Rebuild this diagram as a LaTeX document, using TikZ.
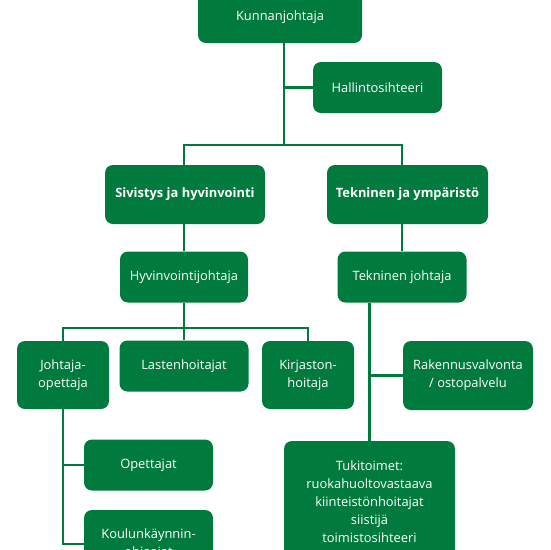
\documentclass[tikz,border=0pt]{standalone}
\usepackage{fontspec}
\setmainfont{Open Sans}
\usetikzlibrary{backgrounds}
\definecolor{gr}{RGB}{0,122,61}
\begin{document}
\begin{tikzpicture}[x=1pt,y=-1pt,
 box/.style={fill=gr, rounded corners=8pt, text=white, font=\fontsize{12.9}{18}\selectfont, align=center, inner sep=0pt, minimum height=51pt},
 bbox/.style={box, font=\fontsize{12.9}{18}\selectfont\bfseries, minimum height=59pt},
 conn/.style={draw=gr, line width=2.8pt}]
\useasboundingbox (0,0) rectangle (550,550);
\clip (0,0) rectangle (550,550);
\node[box, minimum width=164pt] (kunta) at (280,17.5) {Kunnanjohtaja};
\node[box, minimum width=129pt] (hal) at (377.5,87.5) {Hallintosihteeri};
\node[bbox, minimum width=160pt] (siv) at (185,194.5) {Sivistys ja hyvinvointi};
\node[bbox, minimum width=161pt] (tek) at (407.5,194.5) {Tekninen ja ympäristö};
\node[box, minimum width=128pt] (hyv) at (184,277) {Hyvinvointijohtaja};
\node[box, minimum width=129pt] (tj) at (402,277) {Tekninen johtaja};
\node[box, minimum width=92pt, minimum height=68pt] (jo) at (63,375) {Johtaja-\\opettaja};
\node[box, minimum width=129pt] (las) at (184,366) {Lastenhoitajat};
\node[box, minimum width=92pt, minimum height=68pt] (kir) at (308,375) {Kirjaston-\\hoitaja};
\node[box, minimum width=130pt, minimum height=69pt] (rak) at (468,375.5) {Rakennusvalvonta\\/ ostopalvelu};
\node[box, minimum width=129pt] (ope) at (148.5,465) {Opettajat};
\node[box, minimum width=129pt, minimum height=68pt] (kou) at (148.5,544) {Koulunkäynnin-\\ohjaajat};
\node[box, minimum width=171pt, minimum height=122pt] (tuki) at (369.5,502) {Tukitoimet:\\ruokahuoltovastaava\\kiinteistönhoitajat\\siistijä\\toimistosihteeri};
\coordinate (t) at (284,145);
\coordinate (u) at (184,328);
\begin{scope}[on background layer]
\draw[conn] (t |- kunta.south) -- (t);
\draw[conn] (hal.west) -- (hal.west -| t);
\draw[conn] (hyv.north) -- (hyv.north |- t) -- (tj.north |- t) -- (tj.north);
\draw[conn] (hyv.south) -- (las.north);
\draw[conn] (jo.north) -- (jo.north |- u) -- (kir.north |- u) -- (kir.north);
\draw[conn] (tuki.north) -- (tuki.north |- tj.south);
\draw[conn] (rak.west) -- (rak.west -| tuki.north);
\draw[conn] (jo.south) -- (jo.south |- kou.west) -- (kou.west);
\draw[conn] (ope.west) -- (ope.west -| jo.south);
\end{scope}
\end{tikzpicture}
\end{document}
